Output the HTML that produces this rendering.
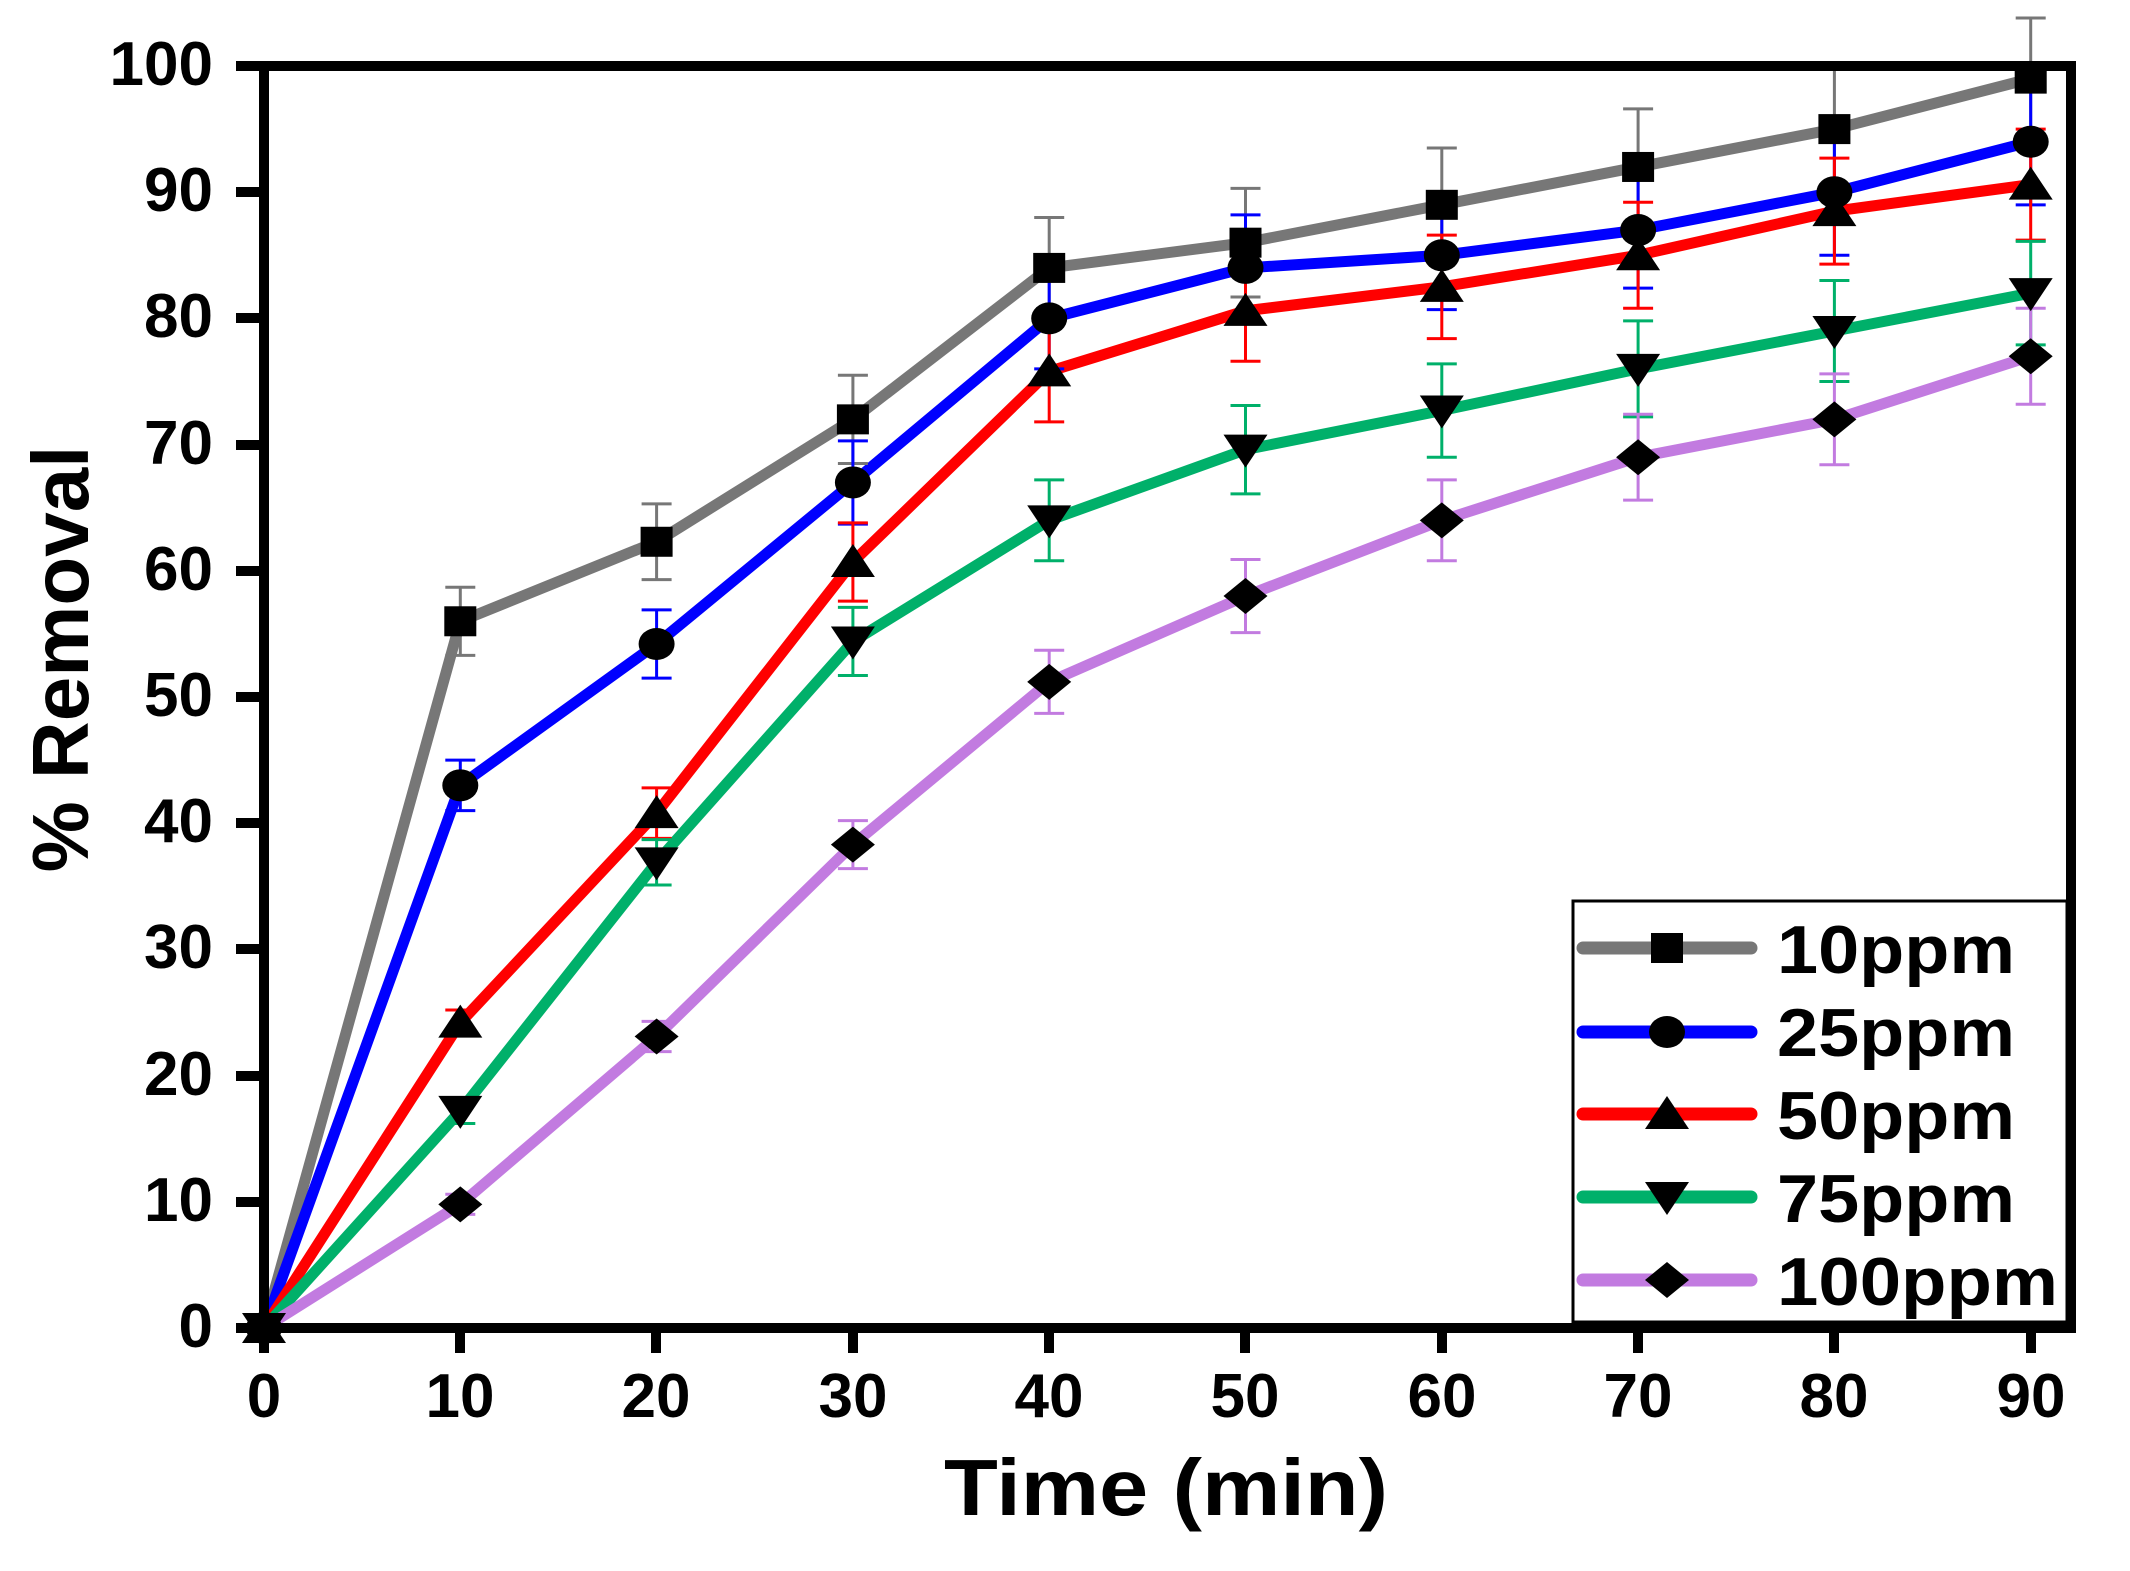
<!DOCTYPE html>
<html><head><meta charset="utf-8"><style>
html,body{margin:0;padding:0;background:#fff}
svg{display:block}
text{font-family:"Liberation Sans",Arial,sans-serif;font-weight:bold;fill:#000}
</style></head><body>
<svg id="s" width="2130" height="1571" viewBox="0 0 2130 1571" xmlns="http://www.w3.org/2000/svg">
<rect width="2130" height="1571" fill="#fff"/>
<g id="data"></g>
<rect x="264" y="66" width="1807" height="1262" fill="none" stroke="#000" stroke-width="10"/>
<g stroke="#000" stroke-width="10">
<line x1="236" y1="66" x2="264" y2="66"/><line x1="236" y1="192" x2="264" y2="192"/><line x1="236" y1="318" x2="264" y2="318"/><line x1="236" y1="445" x2="264" y2="445"/><line x1="236" y1="571" x2="264" y2="571"/><line x1="236" y1="697" x2="264" y2="697"/><line x1="236" y1="823" x2="264" y2="823"/><line x1="236" y1="949" x2="264" y2="949"/><line x1="236" y1="1076" x2="264" y2="1076"/><line x1="236" y1="1202" x2="264" y2="1202"/><line x1="236" y1="1328" x2="264" y2="1328"/>
<line x1="264" y1="1328" x2="264" y2="1353"/><line x1="460" y1="1328" x2="460" y2="1353"/><line x1="656" y1="1328" x2="656" y2="1353"/><line x1="853" y1="1328" x2="853" y2="1353"/><line x1="1049" y1="1328" x2="1049" y2="1353"/><line x1="1245" y1="1328" x2="1245" y2="1353"/><line x1="1442" y1="1328" x2="1442" y2="1353"/><line x1="1638" y1="1328" x2="1638" y2="1353"/><line x1="1834" y1="1328" x2="1834" y2="1353"/><line x1="2031" y1="1328" x2="2031" y2="1353"/>
</g>
<g font-size="62" text-anchor="end">
<text x="213" y="85">100</text><text x="213" y="211">90</text><text x="213" y="337">80</text><text x="213" y="464">70</text><text x="213" y="590">60</text><text x="213" y="716">50</text><text x="213" y="842">40</text><text x="213" y="968">30</text><text x="213" y="1095">20</text><text x="213" y="1221">10</text><text x="213" y="1347">0</text>
</g>
<g font-size="62" text-anchor="middle">
<text x="264" y="1417">0</text><text x="460" y="1417">10</text><text x="656" y="1417">20</text><text x="853" y="1417">30</text><text x="1049" y="1417">40</text><text x="1245" y="1417">50</text><text x="1442" y="1417">60</text><text x="1638" y="1417">70</text><text x="1834" y="1417">80</text><text x="2031" y="1417">90</text>
</g>
<text x="944" y="1515" font-size="80" textLength="444" lengthAdjust="spacingAndGlyphs">Time (min)</text>
<text transform="translate(88,659) rotate(-90)" font-size="80" text-anchor="middle">% Removal</text>
<rect x="1573" y="901" width="494" height="421" fill="#fff" stroke="#000" stroke-width="3"/>
<g stroke-width="13" stroke-linecap="round">
<line x1="1583" y1="948" x2="1751" y2="948" stroke="#777"/>
<line x1="1583" y1="1032" x2="1751" y2="1032" stroke="#0000ff"/>
<line x1="1583" y1="1114" x2="1751" y2="1114" stroke="#ff0000"/>
<line x1="1583" y1="1197" x2="1751" y2="1197" stroke="#00b06a"/>
<line x1="1583" y1="1280" x2="1751" y2="1280" stroke="#c27be0"/>
</g>
<g id="legm"></g>
<g font-size="68">
<text x="1777" y="973" textLength="238" lengthAdjust="spacingAndGlyphs">10ppm</text>
<text x="1777" y="1056" textLength="238" lengthAdjust="spacingAndGlyphs">25ppm</text>
<text x="1777" y="1139" textLength="238" lengthAdjust="spacingAndGlyphs">50ppm</text>
<text x="1777" y="1222" textLength="238" lengthAdjust="spacingAndGlyphs">75ppm</text>
<text x="1777" y="1305" textLength="281" lengthAdjust="spacingAndGlyphs">100ppm</text>
</g>
</svg>
<script>
var NS="http://www.w3.org/2000/svg";
function X(t){return 264+19.63*t}
function Y(v){return 1328-12.62*v}
var series=[
{c:"#777",m:"sq",v:[0,56,62.3,72,84,86,89,92,95,99],e:[0,2.7,3,3.5,4,4.3,4.5,4.6,4.8,4.8]},
{c:"#0000ff",m:"ci",v:[0,43,54.2,67,80,84,85,87,90,94],e:[0,2,2.7,3.3,4,4.2,4.3,4.6,5,5]},
{c:"#ff0000",m:"tu",v:[0,24.2,40.8,60.7,75.8,80.6,82.5,85,88.5,90.6],e:[0,1,2,3.1,4,4,4.1,4.2,4.2,4.4]},
{c:"#00b06a",m:"td",v:[0,17.2,36.9,54.4,64,69.6,72.7,76,79,82],e:[0,1,1.8,2.7,3.2,3.5,3.7,3.8,4,4.1]},
{c:"#c27be0",m:"di",v:[0,9.8,23.1,38.3,51.2,58,64,69,72,77],e:[0,0.8,1.2,1.9,2.5,2.9,3.2,3.4,3.6,3.8]}];
function el(n,a,p){var e=document.createElementNS(NS,n);for(var k in a)e.setAttribute(k,a[k]);p.appendChild(e);return e}
function marker(m,x,y,p){
 if(m=="sq")el("rect",{x:x-16,y:y-15,width:32,height:30,fill:"#000"},p);
 else if(m=="ci")el("ellipse",{cx:x,cy:y,rx:18,ry:16,fill:"#000"},p);
 else if(m=="tu")el("polygon",{points:(x-22)+","+(y+15)+" "+(x+22)+","+(y+15)+" "+x+","+(y-18),fill:"#000"},p);
 else if(m=="td")el("polygon",{points:(x-22)+","+(y-15)+" "+(x+22)+","+(y-15)+" "+x+","+(y+18),fill:"#000"},p);
 else el("polygon",{points:(x-22)+","+y+" "+x+","+(y-18)+" "+(x+22)+","+y+" "+x+","+(y+18),fill:"#000"},p);
}
var g=document.getElementById("data");
series.forEach(function(s){
 var pts=s.v.map(function(v,i){return X(i*10)+","+Y(v)}).join(" ");
 el("polyline",{points:pts,fill:"none",stroke:s.c,"stroke-width":11,"stroke-linejoin":"miter"},g);
});
series.forEach(function(s){
 s.v.forEach(function(v,i){
  var x=X(i*10),e=s.e[i];if(!e)return;
  var y1=Y(v+e),y2=Y(v-e);
  el("line",{x1:x,y1:y1,x2:x,y2:y2,stroke:s.c,"stroke-width":3},g);
  el("line",{x1:x-15,y1:y1,x2:x+15,y2:y1,stroke:s.c,"stroke-width":3},g);
  el("line",{x1:x-15,y1:y2,x2:x+15,y2:y2,stroke:s.c,"stroke-width":3},g);
 });
});
series.forEach(function(s){s.v.forEach(function(v,i){marker(s.m,X(i*10),Y(v),g)})});
var lg=document.getElementById("legm");
var ly=[948,1032,1114,1197,1280];
series.forEach(function(s,i){marker(s.m,1667,ly[i],lg)});
</script>
</body></html>
